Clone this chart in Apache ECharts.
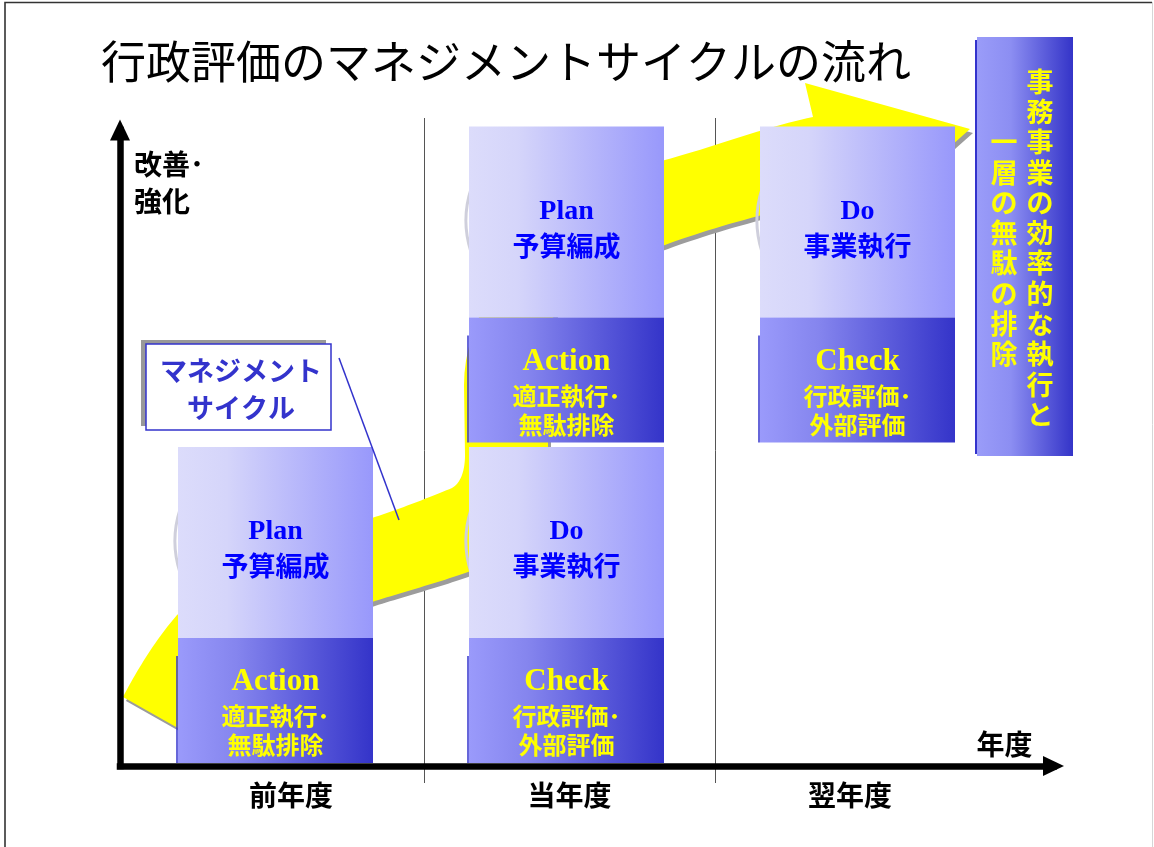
<!DOCTYPE html>
<html>
<head>
<meta charset="utf-8">
<script src="https://cdn.jsdelivr.net/npm/echarts@6/dist/echarts.min.js"></script>
<style>
html,body{margin:0;padding:0;background:#ffffff;}
#main{width:1154px;height:847px;}
</style>
</head>
<body>
<div id="main"></div>
<script>
// ---------------- data ----------------
const titleText = '行政評価のマネジメントサイクルの流れ';
const years = ['前年度', '当年度', '翌年度'];
const yAxisName = '改善･\n強化';
const xAxisName = '年度';
// each stage block: which year column and which improvement level
const stageYear  = [0, 1, 1, 2];
const stageLevel = [0, 0, 1, 1];
const upperTitle = ['Plan', 'Do', 'Plan', 'Do'];
const upperText  = ['予算編成', '事業執行', '予算編成', '事業執行'];
const lowerTitle = ['Action', 'Check', 'Action', 'Check'];
const lowerText1 = ['適正執行･', '行政評価･', '適正執行･', '行政評価･'];
const lowerText2 = ['無駄排除', '外部評価', '無駄排除', '外部評価'];
const calloutText = ['マネジメント', 'サイクル'];
const sideNote = ['事務事業の効率的な執行と', '一層の無駄の排除'];

// ---------------- styles ----------------
const JP = "'Noto Sans CJK JP', 'Noto Sans', sans-serif";
const SERIF = "'Liberation Serif', 'DejaVu Serif', serif";

const chart = echarts.init(document.getElementById('main'), null, {renderer: 'canvas'});

// decorative yellow cycle arrow (outline built from bezier pieces)
function cub(a, b, c, d, n) {
  const out = [];
  for (let k = 1; k <= n; k++) {
    const t = k / n, u = 1 - t;
    out.push([
      u*u*u*a[0] + 3*u*u*t*b[0] + 3*u*t*t*c[0] + t*t*t*d[0],
      u*u*u*a[1] + 3*u*u*t*b[1] + 3*u*t*t*c[1] + t*t*t*d[1]
    ]);
  }
  return out;
}
const band = [[123, 697]];
function C(b, c, d) { const a = band[band.length - 1]; band.push(...cub(a, b, c, d, 24)); }
function L(p) { band.push(p); }
C([138, 668], [157, 638], [177, 615]);
C([235, 570], [300, 538], [372, 518]);
C([400, 509], [430, 497], [452, 488]);
C([461, 483], [465, 470], [465, 455]);
L([464, 385]);
C([464, 290], [560, 185], [665, 160]);
C([710, 148], [765, 127], [813, 117]);
L([805, 83]); L([970, 129]); L([842, 243]); L([832, 200]);
C([780, 208], [705, 230], [665, 245]);
C([600, 268], [548, 290], [548, 345]);
L([548, 460]);
C([548, 520], [512, 560], [468, 572]);
C([440, 582], [400, 593], [372, 602]);
C([300, 625], [240, 680], [215, 749]);
const bandShadow = band.map(p => [p[0] + 3, p[1] + 4]);

function renderStage(params, api) {
  const i = params.dataIndex;
  const p = api.coord([api.value(0), api.value(1)]);
  const w = 195;
  const cx = p[0] - 3;
  const x0 = cx - w / 2;
  const yb = p[1];
  const yMid = yb - 125;
  const yTop = yb - 316;
  const lightGrad = new echarts.graphic.LinearGradient(0, 0, 1, 0, [
    {offset: 0, color: '#dcdcfb'}, {offset: 0.25, color: '#d5d5fa'}, {offset: 1, color: '#9898fb'}]);
  const darkGrad = new echarts.graphic.LinearGradient(0, 0, 1, 0, [
    {offset: 0, color: '#9a9afb'}, {offset: 0.3, color: '#8585ee'}, {offset: 1, color: '#3434c9'}]);
  const txt = (text, y, color, size, family) => ({
    type: 'text', x: cx, y: y,
    style: {text: text, fill: color, fontSize: size, fontWeight: 'bold', fontFamily: family,
            align: 'center', verticalAlign: 'middle'}
  });
  return {
    type: 'group',
    children: [
      {type: 'arc', shape: {cx: x0 + 99, cy: yTop + 94, r: 102, startAngle: Math.PI * 0.9, endAngle: Math.PI * 1.1},
       style: {stroke: '#cfcfdc', lineWidth: 3, fill: null}},
      {type: 'line', shape: {x1: x0 - 1, y1: yMid + 18, x2: x0 - 1, y2: yb}, style: {stroke: '#3333cc', lineWidth: 1.5}},
      {type: 'rect', shape: {x: x0, y: yTop, width: w, height: yMid - yTop}, style: {fill: lightGrad}},
      {type: 'rect', shape: {x: x0, y: yMid, width: w, height: yb - yMid}, style: {fill: darkGrad}},
      txt(upperTitle[i], yTop + 85, '#0000ff', 28, SERIF),
      txt(upperText[i], yTop + 119, '#0000ff', 27, JP),
      txt(lowerTitle[i], yMid + 44, '#ffff00', 31, SERIF),
      txt(lowerText1[i], yMid + 78, '#ffff00', 24, JP),
      txt(lowerText2[i], yMid + 107, '#ffff00', 24, JP)
    ]
  };
}

const catRich = {
  c0: {fontSize: 28, fontWeight: 'bold', fontFamily: JP, color: '#000', padding: [0, 0, 0, 25]},
  c1: {fontSize: 28, fontWeight: 'bold', fontFamily: JP, color: '#000'},
  c2: {fontSize: 28, fontWeight: 'bold', fontFamily: JP, color: '#000', padding: [0, 21, 0, 0]}
};

const option = {
  animation: false,
  backgroundColor: '#ffffff',
  title: {
    text: titleText, left: 101, top: 39, padding: 0,
    textStyle: {fontSize: 45, fontWeight: 'normal', fontFamily: JP, color: '#000', lineHeight: 45}
  },
  grid: [
    {left: 120, top: 130, right: 100.5, bottom: 81, outerBoundsMode: 'none', containLabel: false},
    {left: 133, top: 118, right: 148, bottom: 64, outerBoundsMode: 'none', containLabel: false}
  ],
  xAxis: [
    {
      type: 'value', gridIndex: 0, min: 0, max: 1, z: 5,
      axisLine: {show: true, onZero: false, symbol: ['none', 'triangle'], symbolSize: [20, 21],
                 lineStyle: {color: '#000', width: 6.5, cap: 'square'}},
      axisTick: {show: false}, axisLabel: {show: false}, splitLine: {show: false},
      name: xAxisName, nameLocation: 'end', nameGap: -77,
      nameTextStyle: {fontSize: 28, fontWeight: 'bold', fontFamily: JP, color: '#000',
                      align: 'left', verticalAlign: 'bottom', lineHeight: 28, padding: [0, 0, 8, 0]}
    },
    {
      type: 'category', gridIndex: 1, data: years, boundaryGap: true,
      axisLine: {show: false}, axisTick: {show: false},
      axisLabel: {show: true, interval: 0, margin: 12, verticalAlign: 'middle',
                  fontSize: 28, fontWeight: 'bold', fontFamily: JP, color: '#000',
                  formatter: (v, idx) => '{c' + idx + '|' + v + '}', rich: catRich},
      splitLine: {show: true, showMinLine: false, showMaxLine: false, interval: 0,
                  lineStyle: {color: '#555', width: 1}}
    }
  ],
  yAxis: [
    {
      type: 'value', gridIndex: 0, min: 0, max: 1, z: 5,
      axisLine: {show: true, onZero: false, symbol: ['none', 'triangle'], symbolSize: [20, 21],
                 lineStyle: {color: '#000', width: 6.5, cap: 'square'}},
      axisTick: {show: false}, axisLabel: {show: false}, splitLine: {show: false},
      name: yAxisName, nameLocation: 'end', nameGap: -15.5,
      nameTextStyle: {fontSize: 28, fontWeight: 'bold', fontFamily: JP, color: '#000',
                      align: 'left', verticalAlign: 'top', lineHeight: 37, padding: [0, 0, 0, 14]}
    },
    {
      type: 'value', gridIndex: 1, min: -0.0624, max: 2.0125, show: false
    }
  ],
  graphic: {
    elements: [
      {type: 'polyline', silent: true, z: 0, shape: {points: [[5, 847], [5, 2.5], [1152, 2.5]]},
       style: {stroke: '#333', lineWidth: 1.6, fill: null}},
      {type: 'line', silent: true, z: 0, shape: {x1: 1152.5, y1: 2, x2: 1152.5, y2: 847},
       style: {stroke: '#d6d6d6', lineWidth: 1}},
      {type: 'polygon', silent: true, z: 1, z2: 0, shape: {points: bandShadow}, style: {fill: '#9c9c9c'}},
      {type: 'polygon', silent: true, z: 1, z2: 1, shape: {points: band}, style: {fill: '#ffff00'}},
      // callout
      {type: 'line', silent: true, z: 10, shape: {x1: 339, y1: 358, x2: 399, y2: 520},
       style: {stroke: '#3333cc', lineWidth: 1.5}},
      {type: 'rect', silent: true, z: 10, z2: 0, shape: {x: 141, y: 340, width: 185, height: 86},
       style: {fill: '#999999'}},
      {type: 'rect', silent: true, z: 10, z2: 1, shape: {x: 146, y: 344, width: 185, height: 86},
       style: {fill: '#ffffff', stroke: '#3333cc', lineWidth: 1.5}},
      {type: 'text', silent: true, z: 10, z2: 2, x: 241, y: 389,
       style: {text: calloutText.join('\n'), fill: '#3333cc', fontSize: 27, fontWeight: 'bold',
               fontFamily: JP, lineHeight: 36.5, align: 'center', verticalAlign: 'middle'}},
      // side note box
      {type: 'rect', silent: true, z: 10, z2: 0, shape: {x: 975, y: 40, width: 96, height: 414},
       style: {fill: '#3333cc'}},
      {type: 'rect', silent: true, z: 10, z2: 1, shape: {x: 977, y: 37, width: 96, height: 419},
       style: {fill: new echarts.graphic.LinearGradient(0, 0, 1, 0, [
         {offset: 0, color: '#9a9cf9'}, {offset: 0.35, color: '#8c8ef2'}, {offset: 1, color: '#3434c8'}])}},
      {type: 'text', silent: true, z: 10, z2: 2, x: 1040, y: 248,
       style: {text: sideNote[0].split('').join('\n'), fill: '#ffff00', fontSize: 27, fontWeight: 'bold',
               fontFamily: JP, lineHeight: 30.3, align: 'center', verticalAlign: 'middle'}},
      {type: 'text', silent: true, z: 10, z2: 2, x: 1004, y: 248,
       style: {text: sideNote[1].split('').join('\n'), fill: '#ffff00', fontSize: 27, fontWeight: 'bold',
               fontFamily: JP, lineHeight: 30.3, align: 'center', verticalAlign: 'middle'}}
    ]
  },
  series: [
    {
      type: 'custom',
      xAxisIndex: 1, yAxisIndex: 1,
      z: 2,
      data: stageYear.map((c, i) => [c, stageLevel[i]]),
      encode: {x: 0, y: 1},
      renderItem: renderStage,
      silent: true
    }
  ]
};
chart.setOption(option);
</script>
</body>
</html>
